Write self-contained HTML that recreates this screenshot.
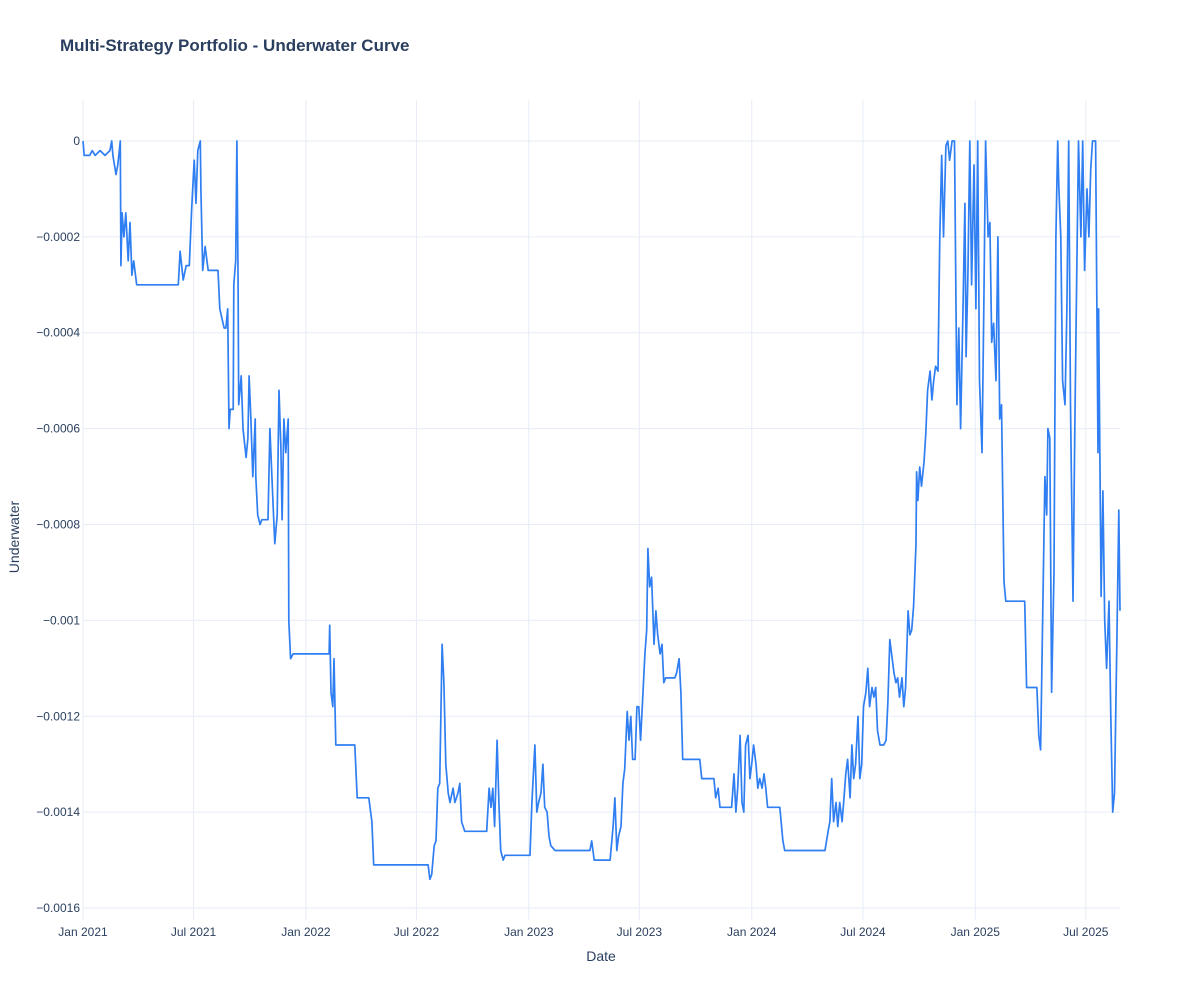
<!DOCTYPE html>
<html><head><meta charset="utf-8"><style>
html,body{margin:0;padding:0;background:#fff;}
svg{display:block;font-family:"Liberation Sans",Arial,sans-serif;}
</style></head><body>
<svg id="chart" width="1200" height="1000">
<rect width="1200" height="1000" fill="#fff"/>
<text x="60" y="51" font-size="17" font-weight="bold" fill="#2a3f5f">Multi-Strategy Portfolio - Underwater Curve</text>
<g id="grid"></g>
<g id="xticks"></g>
<g id="yticks"></g>
<path id="line" fill="none" stroke="#2f7ef2" stroke-width="1.7" stroke-linejoin="round"/>
<text x="601" y="961" font-size="14" fill="#2a3f5f" text-anchor="middle">Date</text>
<text transform="translate(19,537) rotate(-90)" font-size="14" fill="#2a3f5f" text-anchor="middle">Underwater</text>
</svg>
<script>
const dayOffsets=[0,2,11,15,20,28,36,44,47,49,54,57,61,62,64,67,70,74,77,80,83,88,156,159,164,169,174,178,182,185,188,192,193,196,200,205,221,224,231,234,237,239,241,246,247,250,252,254,255,259,262,267,270,272,275,278,282,283,286,290,293,303,306,311,314,318,321,324,326,329,332,336,337,340,344,403,404,406,409,411,414,445,449,468,473,476,565,568,571,575,578,581,584,588,591,594,598,601,606,609,614,617,620,625,661,665,668,671,674,678,681,684,688,691,732,735,740,743,746,750,753,756,760,763,766,773,830,833,837,863,868,871,874,877,881,884,887,891,894,897,900,904,907,910,913,917,920,923,925,928,931,935,938,941,945,948,951,954,969,972,976,979,982,1010,1013,1033,1036,1040,1043,1062,1066,1069,1072,1076,1079,1082,1085,1089,1092,1095,1098,1102,1105,1108,1112,1115,1118,1121,1141,1146,1149,1215,1220,1223,1226,1229,1233,1236,1239,1243,1246,1249,1252,1256,1259,1262,1265,1269,1272,1275,1278,1282,1285,1288,1292,1295,1298,1301,1305,1311,1315,1318,1321,1324,1328,1331,1334,1337,1341,1344,1347,1351,1354,1357,1360,1364,1365,1367,1370,1373,1377,1380,1383,1387,1390,1393,1396,1400,1403,1406,1409,1413,1416,1419,1423,1427,1431,1434,1437,1441,1444,1446,1449,1452,1455,1459,1462,1465,1468,1472,1475,1478,1482,1485,1488,1491,1495,1498,1501,1504,1508,1511,1542,1545,1562,1565,1568,1572,1575,1578,1580,1583,1586,1590,1593,1596,1598,1601,1604,1608,1611,1614,1617,1621,1624,1627,1630,1634,1637,1640,1644,1647,1650,1653,1658,1662,1663,1667,1670,1673,1676,1680,1683,1686,1689,1693,1696,1698];
const underwater=[0,-0.00003,-0.00003,-0.00002,-0.00003,-0.00002,-0.00003,-0.00002,0,-0.00003,-0.00007,-0.00005,0,-0.00026,-0.00015,-0.0002,-0.00015,-0.00025,-0.00017,-0.00028,-0.00025,-0.0003,-0.0003,-0.00023,-0.00029,-0.00026,-0.00026,-0.00014,-0.00004,-0.00013,-0.00002,0,-0.0001,-0.00027,-0.00022,-0.00027,-0.00027,-0.00035,-0.00039,-0.00039,-0.00035,-0.0006,-0.00056,-0.00056,-0.0003,-0.00025,0,-0.0003,-0.00055,-0.00049,-0.0006,-0.00066,-0.00062,-0.00049,-0.00058,-0.0007,-0.00058,-0.0007,-0.00078,-0.0008,-0.00079,-0.00079,-0.0006,-0.00075,-0.00084,-0.00078,-0.00052,-0.00064,-0.00079,-0.00058,-0.00065,-0.00058,-0.001,-0.00108,-0.00107,-0.00107,-0.00101,-0.00115,-0.00118,-0.00108,-0.00126,-0.00126,-0.00137,-0.00137,-0.00142,-0.00151,-0.00151,-0.00154,-0.00153,-0.00147,-0.00146,-0.00135,-0.00134,-0.00105,-0.00113,-0.0013,-0.00136,-0.00138,-0.00135,-0.00138,-0.00136,-0.00134,-0.00142,-0.00144,-0.00144,-0.00135,-0.00139,-0.00135,-0.00143,-0.00125,-0.00138,-0.00148,-0.0015,-0.00149,-0.00149,-0.00138,-0.00126,-0.0014,-0.00138,-0.00136,-0.0013,-0.00139,-0.0014,-0.00145,-0.00147,-0.00148,-0.00148,-0.00146,-0.0015,-0.0015,-0.00143,-0.00137,-0.00148,-0.00145,-0.00143,-0.00134,-0.00131,-0.00119,-0.00125,-0.0012,-0.00129,-0.00129,-0.00118,-0.00118,-0.00125,-0.00115,-0.00107,-0.00102,-0.00085,-0.00093,-0.00091,-0.00105,-0.00098,-0.00103,-0.00107,-0.00105,-0.00113,-0.00112,-0.00112,-0.00111,-0.00108,-0.00115,-0.00129,-0.00129,-0.00133,-0.00133,-0.00137,-0.00135,-0.00139,-0.00139,-0.00132,-0.0014,-0.00135,-0.00124,-0.00138,-0.0014,-0.00126,-0.00124,-0.00133,-0.0013,-0.00126,-0.0013,-0.00135,-0.00133,-0.00135,-0.00132,-0.00135,-0.00139,-0.00139,-0.00146,-0.00148,-0.00148,-0.00144,-0.00142,-0.00133,-0.00142,-0.00138,-0.00143,-0.00138,-0.00142,-0.00137,-0.00132,-0.00129,-0.00137,-0.00126,-0.00133,-0.0013,-0.0012,-0.00133,-0.0013,-0.00118,-0.00115,-0.0011,-0.00118,-0.00114,-0.00116,-0.00114,-0.00123,-0.00126,-0.00126,-0.00125,-0.00117,-0.00104,-0.00107,-0.00111,-0.00113,-0.00112,-0.00116,-0.00112,-0.00118,-0.00114,-0.00098,-0.00103,-0.00102,-0.00097,-0.00084,-0.00069,-0.00075,-0.00068,-0.00072,-0.00067,-0.00061,-0.00052,-0.00048,-0.00054,-0.0005,-0.00047,-0.00048,-0.0002,-0.00003,-0.0002,-0.00001,0,-0.00004,0,0,-0.00055,-0.00039,-0.0006,-0.00035,-0.00013,-0.00045,-0.00028,0,-0.0003,-0.00005,-0.00035,0,-0.0005,-0.00065,-0.00035,0,-0.0002,-0.00017,-0.00042,-0.00038,-0.0005,-0.0002,-0.00058,-0.00055,-0.00092,-0.00096,-0.00096,-0.00114,-0.00114,-0.00124,-0.00127,-0.00095,-0.0007,-0.00078,-0.0006,-0.00062,-0.00115,-0.0009,-0.0002,0,-0.0001,-0.0002,-0.0005,-0.00055,-0.00035,0,-0.00055,-0.00096,-0.0006,-0.0003,0,-0.0002,0,-0.00027,-0.0001,-0.0002,-0.00006,0,0,-0.00065,-0.00035,-0.00095,-0.00073,-0.001,-0.0011,-0.00096,-0.0012,-0.0014,-0.00136,-0.00104,-0.00077,-0.00098];
const xTickLabels=["Jan 2021","Jul 2021","Jan 2022","Jul 2022","Jan 2023","Jul 2023","Jan 2024","Jul 2024","Jan 2025","Jul 2025"];
const xTickDates=["2021-01-01","2021-07-01","2022-01-01","2022-07-01","2023-01-01","2023-07-01","2024-01-01","2024-07-01","2025-01-01","2025-07-01"];
const yTickValues=[0,-0.0002,-0.0004,-0.0006,-0.0008,-0.001,-0.0012,-0.0014,-0.0016];
const yTickLabels=["0","−0.0002","−0.0004","−0.0006","−0.0008","−0.001","−0.0012","−0.0014","−0.0016"];

const NS="http://www.w3.org/2000/svg";
const X0=83,X1=1120,Y0=100,Y1=920;
const t0=Date.UTC(2021,0,1), DAY=86400000, tEnd=t0+1698*DAY;
function xScale(ms){return X0+(ms-t0)/(tEnd-t0)*(X1-X0);}
function xDay(d){return xScale(t0+d*DAY);}
const vTop=0.0000855,vBot=-0.001625;
function yScale(v){return Y0+(vTop-v)/(vTop-vBot)*(Y1-Y0);}
function mk(tag,attrs,parent){const e=document.createElementNS(NS,tag);for(const k in attrs)e.setAttribute(k,attrs[k]);parent.appendChild(e);return e;}
const grid=document.getElementById('grid'),xt=document.getElementById('xticks'),yt=document.getElementById('yticks');
yTickValues.forEach((v,i)=>{
  const y=yScale(v);
  const l=mk('line',{x1:X0,x2:X1,y1:y,y2:y,stroke:'#e6ecf6','stroke-width':1},grid);
  
  
  const t=mk('text',{x:X0-3,y:y+4,'font-size':12,fill:'#2a3f5f','text-anchor':'end'},yt);
  t.textContent=yTickLabels[i];
  
  
});
xTickDates.forEach((s,i)=>{
  const p=s.split('-');const x=xScale(Date.UTC(+p[0],+p[1]-1,+p[2]));
  const l=mk('line',{x1:x,x2:x,y1:Y0,y2:Y1,stroke:'#e6ecf6','stroke-width':1},grid);
  
  
  const t=mk('text',{x:x,y:Y1+16,'font-size':12,fill:'#2a3f5f','text-anchor':'middle'},xt);
  t.textContent=xTickLabels[i];
  
  
});
let d='';
for(let i=0;i<dayOffsets.length;i++){d+=(i?'L':'M')+xDay(dayOffsets[i]).toFixed(1)+','+yScale(underwater[i]).toFixed(1);}
document.getElementById('line').setAttribute('d',d);
</script>
</body></html>
